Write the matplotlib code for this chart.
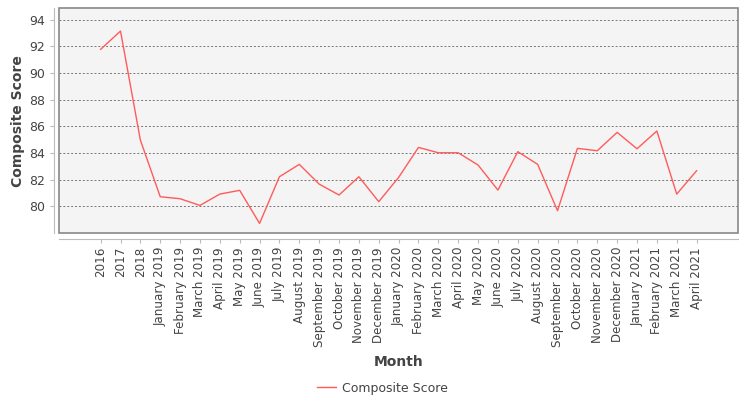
import numpy as np
import matplotlib.pyplot as plt
from matplotlib.patches import Rectangle

months = ['2016', '2017', '2018', 'January 2019', 'February 2019', 'March 2019',
          'April 2019', 'May 2019', 'June 2019', 'July 2019', 'August 2019',
          'September 2019', 'October 2019', 'November 2019', 'December 2019',
          'January 2020', 'February 2020', 'March 2020', 'April 2020', 'May 2020',
          'June 2020', 'July 2020', 'August 2020', 'September 2020', 'October 2020',
          'November 2020', 'December 2020', 'January 2021', 'February 2021',
          'March 2021', 'April 2021']
scores = [91.78, 93.15, 84.97, 80.72, 80.57, 80.07, 80.92, 81.2, 78.72, 82.22,
          83.15, 81.67, 80.85, 82.22, 80.35, 82.17, 84.42, 84.02, 84.02, 83.1,
          81.22, 84.1, 83.15, 79.67, 84.35, 84.17, 85.55, 84.32, 85.65, 80.92,
          82.67]
yticks = [80, 82, 84, 86, 88, 90, 92, 94]

txt = '#444444'
fig = plt.figure(figsize=(7.5, 4), dpi=100)
ax = fig.add_axes([0.0791, 0.4175, 0.9053, 0.5615])
ax.set_facecolor('#f4f4f4')

x = np.arange(len(months))
ax.plot(x, scores, color='#ff5b5b', linewidth=1, label='Composite Score')

ax.set_xlim(-2.08, len(months) + 1.1)
ax.set_ylim(78.0, 94.85)
ax.set_yticks(yticks)
ax.set_xticks(x)
ax.set_xticklabels(months)
ax.yaxis.grid(True, color='#777777', linestyle=(0, (2, 2)), linewidth=0.7)
ax.set_axisbelow(True)

for s in ['top', 'right']:
    ax.spines[s].set_visible(False)
for s in ['left', 'bottom']:
    ax.spines[s].set_position(('outward', 4))
    ax.spines[s].set_color('#bbbbbb')
ax.add_patch(Rectangle((0, 0), 1, 1, transform=ax.transAxes, fill=False,
                       edgecolor='#888888', linewidth=1.2, clip_on=False, zorder=5))

ax.tick_params(axis='both', labelsize=9, colors='#bbbbbb', labelcolor=txt, length=3, width=0.8)
ax.tick_params(axis='x', labelrotation=90, labelsize=8.6, pad=3)

ax.set_ylabel('Composite Score', fontsize=10, fontweight='bold', color=txt, labelpad=3)
ax.set_xlabel('Month', fontsize=10, fontweight='bold', color=txt, labelpad=6)

fig.legend(loc='lower center', bbox_to_anchor=(0.51, -0.015), frameon=False,
           fontsize=9, labelcolor=txt, handlelength=1.5, handletextpad=0.5)

plt.savefig('out.png', dpi=100)
